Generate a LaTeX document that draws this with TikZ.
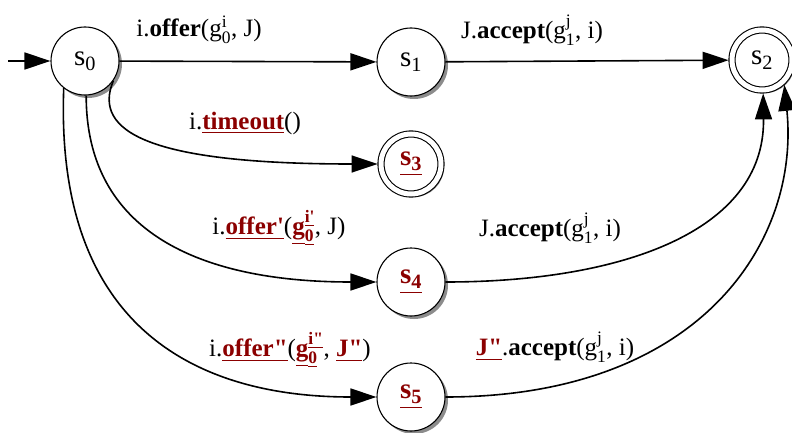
\documentclass[tikz,border=0pt]{standalone}
\usepackage{amsmath}
\usepackage{fontspec}
\setmainfont{Liberation Serif}
\usepackage{tikz}
\usetikzlibrary{positioning, arrows.meta, shadows}
\usepackage{xcolor}

\definecolor{chgred}{HTML}{8B0000}
\newcommand{\chg}[1]{\textcolor{chgred}{\underline{\textbf{#1}}}}

\begin{document}
\begin{tikzpicture}[
  x=1pt, y=1pt,
  every node/.style={font=\fontsize{25}{28}\selectfont},
  state/.style={circle, draw, line width=1.1pt, fill=white, minimum size=68pt,
    inner sep=0pt, font=\fontsize{29}{31}\selectfont,
    drop shadow={shadow xshift=3pt, shadow yshift=-3pt, fill=black!75, opacity=0.6}},
  final/.style={state, double, double distance=5pt, minimum size=60pt,
    outer sep=3.4pt},
  trans/.style={line width=1.6pt, -{Triangle[length=26pt, width=17pt]}}
]
\useasboundingbox (0,0) rectangle (792,432);

% states
\node[state] (s0) at (85,371) {s\textsubscript{0}};
\node[state] (s1) at (411,370) {s\textsubscript{1}};
\node[final] (s2) at (762,372) {s\textsubscript{2}};
\node[final] (s3) at (411,268) {\chg{s\textsubscript{3}}};
\node[state] (s4) at (411,150) {\chg{s\textsubscript{4}}};
\node[state] (s5) at (411,35) {\chg{s\textsubscript{5}}};

% start arrow
\coordinate (init) at (8,371);
\draw[trans] (init) -- (s0);

% transitions
\draw[trans] (s0) -- (s1);
\draw[trans] (s1) -- (s2);
\draw[trans] (s0.-35) .. controls (92,300) and (150,268) .. (s3.west);
\draw[trans] (s0.-88) .. controls (86,200) and (200,150) .. (s4.west);
\draw[trans] (s0.-128) .. controls (55,110) and (190,35) .. (s5.west);
\draw[trans] (s4.east) .. controls (620,150) and (765,200) .. (s2.-88);
\draw[trans] (s5.east) .. controls (700,35) and (800,190) .. (s2.-48);

% labels
\node (l01) at (199,402) {i.\textbf{offer}(g$^{\text{i}}_{\text{0}}$, J)};
\node (l12) at (532,402) {J.\textbf{accept}(g$^{\text{j}}_{\text{1}}$, i)};
\node (l03) at (245,309) {i.\chg{timeout}()};
\node (l04) at (279,204) {i.\chg{offer\textquotesingle}(\chg{g}$^{\chg{i\textquotesingle}}_{\chg{0}}$, J)};
\node (l42) at (550,204) {J.\textbf{accept}(g$^{\text{j}}_{\text{1}}$, i)};
\node (l05) at (290,82) {i.\chg{offer\textquotedbl}(\chg{g}$^{\chg{i\textquotedbl}}_{\chg{0}}$, \chg{J\textquotedbl})};
\node (l52) at (555,85) {\chg{J\textquotedbl}.\textbf{accept}(g$^{\text{j}}_{\text{1}}$, i)};

\end{tikzpicture}
\end{document}
